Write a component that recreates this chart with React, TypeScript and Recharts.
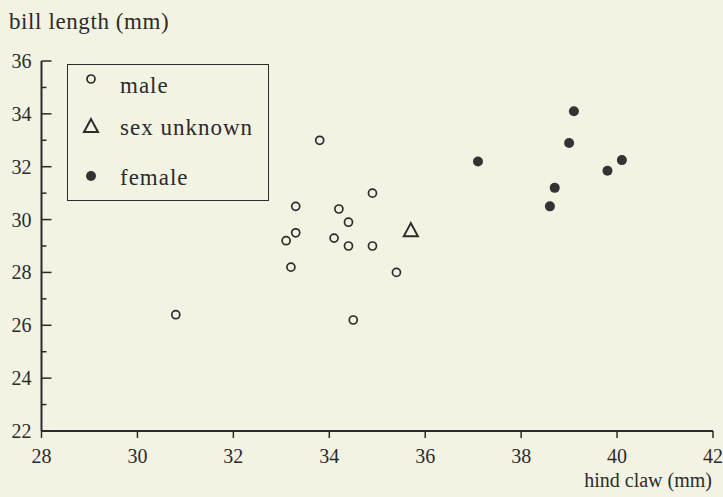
import { ScatterChart, Scatter, XAxis, YAxis, Legend, Label } from 'recharts'

const INK = '#2b2b2b'
const BG = '#f3f3e4'
const FONT = 'Liberation Serif, DejaVu Serif, serif'

// hind claw (mm) / bill length (mm)
const maleClaw = [33.8, 34.9, 33.3, 34.2, 34.4, 33.3, 33.1, 34.1, 34.4, 34.9, 33.2, 35.4, 30.8, 34.5]
const maleBill = [33.0, 31.0, 30.5, 30.4, 29.9, 29.5, 29.2, 29.3, 29.0, 29.0, 28.2, 28.0, 26.4, 26.2]
const unknownClaw = [35.7]
const unknownBill = [29.6]
const femaleClaw = [39.1, 39.0, 37.1, 40.1, 39.8, 38.7, 38.6]
const femaleBill = [34.1, 32.9, 32.2, 32.25, 31.85, 31.2, 30.5]

const legendOrder = ['male', 'sex unknown', 'female']
const xTicks = [28, 30, 32, 34, 36, 38, 40, 42]
const yTicks = [22, 23, 24, 25, 26, 27, 28, 29, 30, 31, 32, 33, 34, 35, 36]

const pairs = (xs: number[], ys: number[]) => xs.map((x, i) => ({ claw: x, bill: ys[i] }))
const male = pairs(maleClaw, maleBill)
const unknown = pairs(unknownClaw, unknownBill)
const female = pairs(femaleClaw, femaleBill)

const OpenCircle = ({ cx, cy }: any) => (
  <circle cx={cx} cy={cy} r={4} fill="none" stroke={INK} strokeWidth={1.7} />
)
const Dot = ({ cx, cy }: any) => <circle cx={cx} cy={cy} r={5} fill="#333" />
const Tri = ({ cx, cy }: any) => (
  <polygon
    points={`${cx},${cy - 7} ${cx - 7},${cy + 6} ${cx + 7},${cy + 6}`}
    fill="none" stroke={INK} strokeWidth={2}
  />
)

function XTick({ x, y, payload }: any) {
  return (
    <g>
      <line x1={x} y1={y} x2={x} y2={y + 7} stroke={INK} strokeWidth={1.5} />
      <text x={x} y={y + 32} textAnchor="middle" fontSize={20} fill={INK} style={{ fontFamily: FONT }}>
        {payload.value}
      </text>
    </g>
  )
}

function YTick({ x, y, payload }: any) {
  const major = payload.value % 2 === 0
  return (
    <g>
      <line x1={x} y1={y} x2={x + (major ? 10 : 5)} y2={y} stroke={INK} strokeWidth={1.5} />
      {major && (
        <text x={x - 10} y={y + 7} textAnchor="end" fontSize={20} fill={INK} style={{ fontFamily: FONT }}>
          {payload.value}
        </text>
      )}
    </g>
  )
}

const symbols: Record<string, (p: any) => any> = {
  male: OpenCircle,
  'sex unknown': Tri,
  female: Dot,
}

const rowHeights = [38, 46, 53]

function LegendBox({ payload }: any) {
  const items = legendOrder.filter(n => (payload || []).some((p: any) => p.value === n))
  return (
    <div style={{
      width: 202, height: 137, border: `1.5px solid ${INK}`, boxSizing: 'border-box',
      fontFamily: FONT, fontSize: 23, letterSpacing: 1, color: INK,
    }}>
      {items.map((name, i) => {
        const Sym = symbols[name]
        return (
          <div key={name} style={{ display: 'flex', alignItems: 'center', height: rowHeights[i] }}>
            <svg width={50} height={24} style={{ flex: 'none' }}>
              <Sym cx={23} cy={i === 0 ? 7 : 12} />
            </svg>
            <span style={{ marginLeft: 2, marginTop: 4 }}>{name}</span>
          </div>
        )
      })}
    </div>
  )
}

export default function App() {
  return (
    <div style={{ position: 'absolute', left: 0, top: 0, width: 723, height: 497, background: BG, fontFamily: FONT }}>
      <ScatterChart width={723} height={497} margin={{ top: 61, right: 10, bottom: 0, left: 0 }}>
        <XAxis
          type="number" dataKey="claw" domain={[28, 42]} ticks={xTicks}
          axisLine={{ stroke: INK, strokeWidth: 2 }} tickLine={false} tickSize={0} tickMargin={0}
          tick={<XTick />} interval={0} height={66}
        >
          <Label
            content={() => (
              <text x={712} y={487} textAnchor="end" fontSize={20} fill={INK} style={{ fontFamily: FONT }}>
                hind claw (mm)
              </text>
            )}
          />
        </XAxis>
        <YAxis
          type="number" dataKey="bill" domain={[22, 36]} ticks={yTicks}
          axisLine={{ stroke: INK, strokeWidth: 2 }} tickLine={false} tickSize={0} tickMargin={0}
          tick={<YTick />} interval={0} width={41.5}
        >
          <Label
            content={() => (
              <text x={9} y={29} fontSize={23} letterSpacing={0.6} fill={INK} style={{ fontFamily: FONT }}>
                bill length (mm)
              </text>
            )}
          />
        </YAxis>
        <Legend
          layout="vertical" align="center" verticalAlign="middle"
          wrapperStyle={{ left: 67, top: 64, width: 202, height: 137 }}
          content={<LegendBox />}
        />
        <Scatter name="male" data={male} shape={<OpenCircle />} isAnimationActive={false} />
        <Scatter name="sex unknown" data={unknown} shape={<Tri />} isAnimationActive={false} />
        <Scatter name="female" data={female} shape={<Dot />} isAnimationActive={false} />
      </ScatterChart>
    </div>
  )
}
